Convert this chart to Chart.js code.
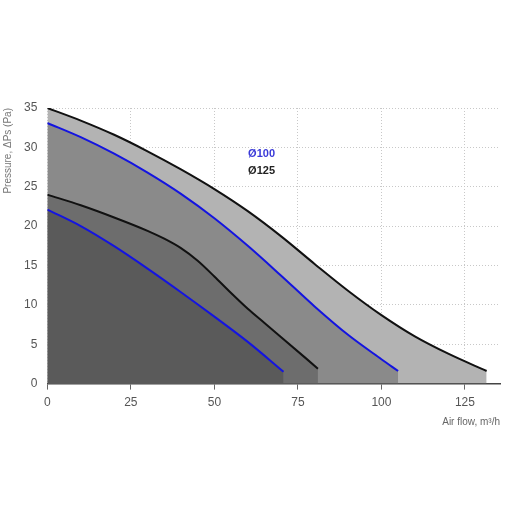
<!DOCTYPE html>
<html>
<head>
<meta charset="utf-8">
<script src="https://cdn.jsdelivr.net/npm/chart.js@4"></script>
<style>
html,body{margin:0;padding:0;background:#fff;}
#wrap{width:512px;height:512px;position:relative;}
</style>
</head>
<body>
<div id="wrap"><canvas id="c" width="512" height="512"></canvas></div>
<script>
// Data
const outer125X = [0, 10, 20, 30, 40, 50, 60, 70, 80, 90, 100, 110, 120, 131.5];
const outer125Y = [35.0, 33.4, 31.6, 29.5, 27.2, 24.7, 21.9, 18.7, 15.2, 11.8, 8.7, 6.0, 3.8, 1.6];
const outer100X = [0, 10, 20, 30, 40, 50, 60, 70, 80, 90, 100, 105];
const outer100Y = [33.1, 31.3, 29.2, 26.8, 24.1, 21.0, 17.5, 13.7, 9.8, 6.2, 3.1, 1.6];
const inner125X = [0, 10, 20, 30, 35, 40, 45, 50, 55, 60, 65, 70, 81];
const inner125Y = [24.0, 22.65, 21.1, 19.4, 18.4, 17.2, 15.6, 13.6, 11.5, 9.5, 7.7, 5.9, 1.9];
const inner100X = [0, 10, 20, 30, 40, 50, 60, 70.7];
const inner100Y = [22.1, 20.0, 17.45, 14.6, 11.6, 8.5, 5.3, 1.5];
const legendLabels = ['Ø100', 'Ø125'];
const xTitle = 'Air flow, m³/h';
const yTitle = 'Pressure, ΔPs (Pa)';

const pts = (xs, ys) => xs.map((x, i) => ({x: x, y: ys[i]}));

const BLUE = '#1414e0';
const BLACK = '#111111';
const FONT = '"Liberation Sans", Arial, sans-serif';

const legendPlugin = {
  id: 'textLegend',
  afterDatasetsDraw(chart) {
    const {ctx, scales} = chart;
    const x = scales.x.getPixelForValue(60.1);
    ctx.save();
    ctx.font = 'bold 11px ' + FONT;
    ctx.textBaseline = 'middle';
    ctx.textAlign = 'left';
    ctx.fillStyle = '#3a3ad8';
    ctx.fillText(legendLabels[0], x, scales.y.getPixelForValue(29.1));
    ctx.fillStyle = '#222222';
    ctx.fillText(legendLabels[1], x, scales.y.getPixelForValue(27.05));
    ctx.restore();
  }
};

const ds = (data, color, fill) => ({
  data: data,
  borderColor: color,
  borderWidth: 2,
  backgroundColor: fill,
  fill: 'origin',
  pointRadius: 0,
  cubicInterpolationMode: 'monotone'
});

new Chart(document.getElementById('c'), {
  type: 'line',
  data: {
    datasets: [
      ds(pts(inner100X, inner100Y), BLUE, '#5a5a5a'),
      ds(pts(inner125X, inner125Y), BLACK, '#6d6d6d'),
      ds(pts(outer100X, outer100Y), BLUE, '#8a8a8a'),
      ds(pts(outer125X, outer125Y), BLACK, '#b3b3b3')
    ]
  },
  options: {
    responsive: false,
    animation: false,
    layout: {padding: {top: 108, right: 12, bottom: 84, left: 2}},
    plugins: {legend: {display: false}, tooltip: {enabled: false}},
    scales: {
      x: {
        type: 'linear',
        min: 0,
        max: 135.5,
        ticks: {stepSize: 25, includeBounds: false, color: '#555', padding: 6,
                font: {family: FONT, size: 12}},
        grid: {color: '#c8c8c8', tickColor: '#666', tickLength: 6, tickBorderDash: [], tickWidth: 1},
        border: {display: true, color: '#444', width: 1.5, dash: [1, 2]},
        title: {display: true, text: xTitle, align: 'end', color: '#666',
                font: {family: FONT, size: 10}, padding: {top: 0, bottom: 0}}
      },
      y: {
        min: 0,
        max: 35,
        ticks: {stepSize: 5, color: '#555', padding: 10,
                font: {family: FONT, size: 12}},
        grid: {color: '#c8c8c8', drawTicks: false},
        border: {display: false, dash: [1, 2]},
        title: {display: true, text: yTitle, align: 'end', color: '#777',
                font: {family: FONT, size: 10}, padding: {top: 0, bottom: 0}}
      }
    }
  },
  plugins: [legendPlugin]
});
</script>
</body>
</html>
